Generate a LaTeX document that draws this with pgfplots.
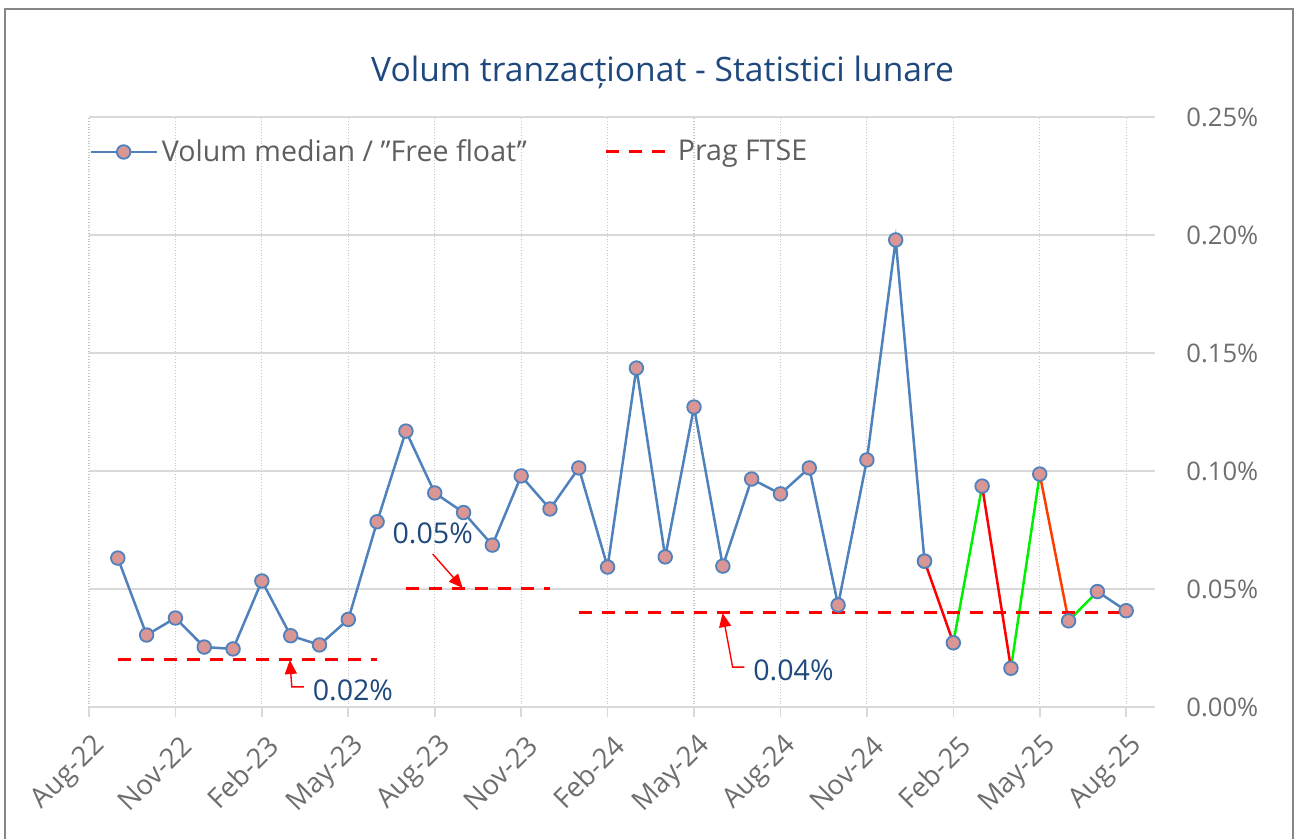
\documentclass[border=0pt]{standalone}
\usepackage{fontspec}
\setmainfont{Open Sans}
\usepackage{pgfplots}
\pgfplotsset{compat=1.18}
\usetikzlibrary{arrows.meta}
\definecolor{titleblue}{RGB}{31,73,125}
\definecolor{lineblue}{RGB}{79,129,189}
\definecolor{mkfill}{RGB}{217,150,148}
\definecolor{tickgray}{RGB}{110,110,110}
\definecolor{legendgray}{RGB}{95,95,95}
\definecolor{gridgray}{RGB}{217,217,217}
\definecolor{framegray}{RGB}{134,134,134}
\definecolor{seggreen}{RGB}{0,240,0}
\definecolor{segred}{RGB}{255,0,0}
\definecolor{segorange}{RGB}{255,60,0}
\begin{document}
\begin{tikzpicture}
\useasboundingbox (0,0) rectangle (648.5pt,419.5pt);
\draw[framegray, line width=1pt] (2.5pt,-5pt) rectangle (646.5pt,415pt);
\node[anchor=base, text=titleblue, font=\fontsize{16.8}{20}\selectfont] at (331.3pt,378.5pt) {Volum tranzacționat - Statistici lunare};
\begin{axis}[
  at={(44.5pt,66pt)}, anchor=south west,
  scale only axis, width=533pt, height=295pt,
  xmin=0, xmax=37, ymin=0, ymax=0.25,
  xtick={0,3,6,9,12,15,18,21,24,27,30,33,36},
  xticklabels={Aug-22,Nov-22,Feb-23,May-23,Aug-23,Nov-23,Feb-24,May-24,Aug-24,Nov-24,Feb-25,May-25,Aug-25},
  ytick={0,0.05,0.1,0.15,0.2,0.25},
  scaled y ticks=false,
  yticklabel pos=right,
  ytick pos=right,
  xtick pos=bottom,
  tick align=outside,
  major tick length=5pt,
  xtick style={gridgray, line width=0.8pt},
  ytick style={draw=none},
  separate axis lines,
  x axis line style={gridgray, line width=1pt},
  y axis line style={draw=none},
  xmajorgrids, ymajorgrids,
  x grid style={densely dotted, gray!45, line width=0.6pt},
  y grid style={gridgray, line width=1pt},
  yticklabel={\pgfmathprintnumber[fixed,fixed zerofill,precision=2,assume math mode=true]{\tick}\%},
  yticklabel style={anchor=west, inner sep=0pt, xshift=10.5pt, font=\fontsize{12.8}{15}\selectfont, text=tickgray},
  xticklabel style={xshift=6pt, yshift=-12pt, rotate=45, anchor=east, inner sep=0pt, font=\fontsize{13.8}{16}\selectfont, text=tickgray},
  legend columns=2,
  legend image code/.code={\draw[mark repeat=2,mark phase=2,#1] plot coordinates {(0pt,0pt) (16.5pt,0pt) (33pt,0pt)};},
  legend style={at={(rel axis cs:0,0.9407)}, anchor=west, draw=none, fill=none, inner sep=0pt,
    font=\fontsize{14.3}{17}\selectfont, text=legendgray,
    /tikz/every even column/.append style={column sep=37pt}},
]
\addplot[lineblue, line width=1.25pt, mark=*, mark size=3.4pt, mark options={fill=mkfill, draw=lineblue, line width=0.9pt}] coordinates {
(1,0.0631) (2,0.0305) (3,0.0377) (4,0.0254) (5,0.0246) (6,0.0534) (7,0.0302) (8,0.0263) (9,0.0371)
(10,0.0785) (11,0.1169) (12,0.0907) (13,0.0824) (14,0.0686) (15,0.0979) (16,0.0839) (17,0.1013) (18,0.0593)
(19,0.1436) (20,0.0636) (21,0.1271) (22,0.0597) (23,0.0966) (24,0.0903) (25,0.1013) (26,0.0432) (27,0.1047)
(28,0.1979) (29,0.0618)};
\addlegendentry{Volum median / ”Free float”}
\addplot[lineblue, line width=1.25pt, forget plot] coordinates {(35,0.0489) (36,0.0408)};
\addplot[segred, line width=1.25pt, forget plot] coordinates {(29,0.0618) (30,0.0272)};
\addplot[seggreen, line width=1.25pt, forget plot] coordinates {(30,0.0272) (31,0.0936)};
\addplot[segred, line width=1.25pt, forget plot] coordinates {(31,0.0936) (32,0.0164)};
\addplot[seggreen, line width=1.25pt, forget plot] coordinates {(32,0.0164) (33,0.0987)};
\addplot[segorange, line width=1.25pt, forget plot] coordinates {(33,0.0987) (34,0.0365)};
\addplot[seggreen, line width=1.25pt, forget plot] coordinates {(34,0.0365) (35,0.0489)};
\addplot[only marks, mark=*, mark size=3.4pt, mark options={fill=mkfill, draw=lineblue, line width=0.9pt}, forget plot] coordinates {
(29,0.0618) (30,0.0272) (31,0.0936) (32,0.0164) (33,0.0987) (34,0.0365) (35,0.0489) (36,0.0408)};
\addplot[segred, line width=1.5pt, dash pattern=on 6.5pt off 5pt] coordinates {(1,0.02) (10,0.02)};
\addlegendentry{Prag FTSE}
\addplot[segred, line width=1.5pt, dash pattern=on 6.5pt off 5pt, forget plot] coordinates {(11,0.05) (16,0.05)};
\addplot[segred, line width=1.5pt, dash pattern=on 6.5pt off 5pt, forget plot] coordinates {(17,0.04) (36,0.04)};
\draw[segred, line width=0.7pt, -{Triangle[length=7pt,width=6pt]}] (axis cs:11.93,0.0648) -- (axis cs:12.97,0.0504);
\draw[segred, line width=0.7pt, -{Triangle[length=7pt,width=6pt]}] (axis cs:7.46,0.0085) -- (axis cs:7.04,0.0085) -- (axis cs:6.97,0.0199);
\draw[segred, line width=0.7pt, -{Triangle[length=7pt,width=6pt]}] (axis cs:22.75,0.0169) -- (axis cs:22.34,0.0169) -- (axis cs:21.99,0.0398);
\node[text=titleblue, font=\fontsize{14.3}{17}\selectfont] at (axis cs:11.93,0.0737) {0.05\%};
\node[text=titleblue, font=\fontsize{14.3}{17}\selectfont] at (axis cs:9.16,0.0072) {0.02\%};
\node[text=titleblue, font=\fontsize{14.3}{17}\selectfont] at (axis cs:24.45,0.0157) {0.04\%};
\end{axis}
\end{tikzpicture}
\end{document}
